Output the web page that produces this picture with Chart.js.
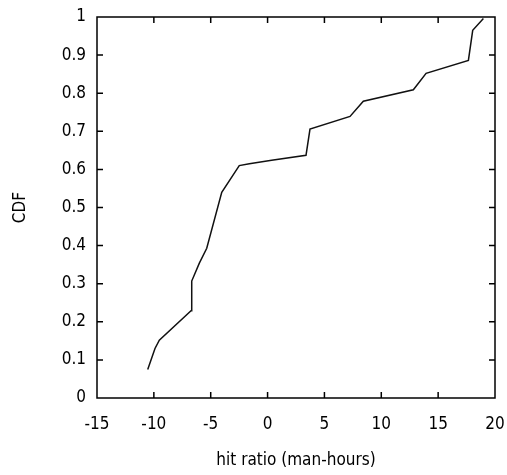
<!DOCTYPE html>
<html>
<head>
<meta charset="utf-8">
<script src="https://cdn.jsdelivr.net/npm/chart.js@4.4.0/dist/chart.umd.min.js"></script>
<style>
  html, body { margin: 0; padding: 0; background: #fff; }
  #wrap { width: 507px; height: 475px; }
</style>
</head>
<body>
<div id="wrap"><canvas id="myChart" width="507" height="475"></canvas></div>
<script>
const hitRatio = [-10.54, -9.9, -9.52, -6.73, -6.67, -6.0, -5.35, -4.03, -2.49, -1.6, 0.36, 3.38, 3.73, 7.25, 8.42, 12.82, 13.94, 17.66, 18.04, 18.98]
const cdf = [0.075, 0.13, 0.152, 0.229, 0.307, 0.354, 0.393, 0.54, 0.61, 0.615, 0.624, 0.637, 0.706, 0.739, 0.779, 0.809, 0.852, 0.886, 0.965, 0.996]
const xTicks = [-15, -10, -5, 0, 5, 10, 15, 20]
const yTicks = [0, 0.1, 0.2, 0.3, 0.4, 0.5, 0.6, 0.7, 0.8, 0.9, 1]

const fontFamily = '"Liberation Sans Narrow", "DejaVu Sans Condensed", "Liberation Sans", sans-serif'

// box around the plot + inward tick marks on all four sides
const frame = {
  id: 'frame',
  afterDraw(chart) {
    const {ctx, chartArea: a, scales: {x, y}} = chart
    const len = 6
    ctx.save()
    ctx.strokeStyle = '#000'
    ctx.lineWidth = 1.5
    ctx.strokeRect(a.left, a.top, a.right - a.left, a.bottom - a.top)
    ctx.beginPath()
    xTicks.slice(1, -1).forEach(v => {
      const px = x.getPixelForValue(v)
      ctx.moveTo(px, a.bottom); ctx.lineTo(px, a.bottom - len)
      ctx.moveTo(px, a.top); ctx.lineTo(px, a.top + len)
    })
    yTicks.slice(1, -1).forEach(v => {
      const py = y.getPixelForValue(v)
      ctx.moveTo(a.left, py); ctx.lineTo(a.left + len, py)
      ctx.moveTo(a.right, py); ctx.lineTo(a.right - len, py)
    })
    ctx.stroke()
    ctx.restore()
  }
}

const noPad = s => { s.paddingLeft = 0; s.paddingRight = 0; s.paddingTop = 0; s.paddingBottom = 0 }

new Chart(document.getElementById('myChart'), {
  type: 'scatter',
  data: {
    datasets: [{
      data: hitRatio.map((v, i) => ({x: v, y: cdf[i]})),
      showLine: true,
      borderColor: '#111',
      borderWidth: 1.5,
      pointRadius: 0,
      tension: 0
    }]
  },
  options: {
    responsive: false,
    animation: false,
    layout: { padding: { left: 0, right: 12, top: 17, bottom: 0 } },
    plugins: { legend: { display: false }, tooltip: { enabled: false } },
    scales: {
      x: {
        type: 'linear',
        min: -15,
        max: 20,
        afterBuildTicks: s => { s.ticks = xTicks.map(v => ({value: v})) },
        afterFit: s => { s.height = 77; noPad(s) },
        grid: { display: false, drawTicks: false },
        border: { display: false },
        ticks: { color: '#000', padding: 16, maxRotation: 0, callback: v => String(v), font: { family: fontFamily, size: 17 } },
        title: { display: true, text: 'hit ratio (man-hours)', color: '#000', padding: { top: 14 }, font: { family: fontFamily, size: 17 } }
      },
      y: {
        type: 'linear',
        min: 0,
        max: 1,
        afterBuildTicks: s => { s.ticks = yTicks.map(v => ({value: v})) },
        afterFit: s => { s.width = 97; noPad(s) },
        grid: { display: false, drawTicks: false },
        border: { display: false },
        ticks: { color: '#000', padding: 11, callback: v => String(v), font: { family: fontFamily, size: 17 } },
        title: { display: true, text: 'CDF', color: '#000', padding: { top: 10 }, font: { family: fontFamily, size: 17 } }
      }
    }
  },
  plugins: [frame]
})
</script>
</body>
</html>
